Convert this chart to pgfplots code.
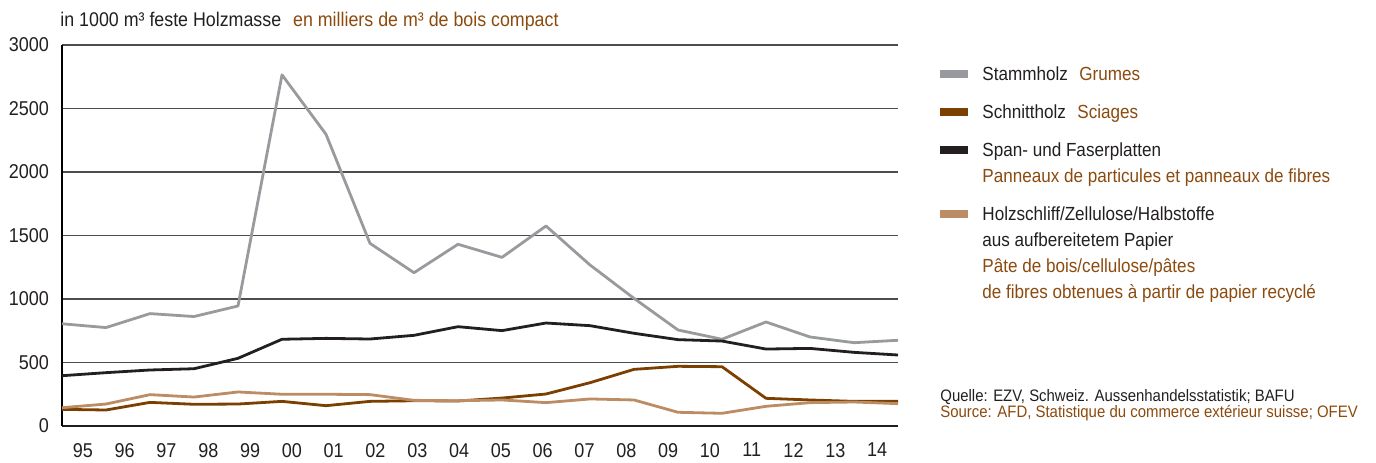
\documentclass[border=0pt]{standalone}
\usepackage{fontspec}
\setmainfont{Liberation Sans}[FakeStretch=0.9]
\usepackage{pgfplots}
\usepackage{pgfplotstable}
\pgfplotsset{compat=1.18}

\definecolor{stamm}{HTML}{999A9E}
\definecolor{schnitt}{HTML}{7B3F00}
\definecolor{span}{HTML}{231F20}
\definecolor{schliff}{HTML}{BC8D64}
\definecolor{fr}{HTML}{8B4A0E}
\definecolor{txt}{HTML}{231F20}
\definecolor{gridc}{HTML}{4D4D4D}

% index 0 = 1995 ... 19 = 2014, in 1000 m3
\pgfplotstableread{
x  stamm schnitt span schliff
0   805  131  396  144
1   775  126  420  173
2   885  186  441  247
3   862  171  451  228
4   945  173  533  268
5  2765  194  683  250
6  2297  160  690  250
7  1438  194  685  247
8  1207  199  714  202
9  1431  197  782  199
10 1328  220  751  205
11 1575  252  811  184
12 1268  341  790  213
13 1005  446  730  205
14  756  470  680  108
15  683  467  669  100
16  819  218  606  155
17  701  205  611  184
18  656  194  580  189
19  675  194  559  176
}\holz

\begin{document}
\begin{tikzpicture}[
    leg/.style={anchor=base west, inner sep=0pt, text=txt, font=\fontsize{9.5}{12}\selectfont},
    src/.style={anchor=base west, inner sep=0pt, font=\fontsize{8.3}{10}\selectfont}
]
\useasboundingbox (-31pt,-18pt) rectangle (657pt,213pt);
\begin{axis}[
    at={(0,0)}, anchor=south west,
    scale only axis,
    width=418pt, height=190.5pt,
    xmin=0, xmax=19, ymin=0, ymax=3000,
    axis lines*=left,
    x axis line style={draw=txt, line width=0.8pt},
    y axis line style={draw=black, line width=1.4pt},
    ytick={0,500,...,3000},
    ymajorgrids,
    grid style={draw=gridc, line width=0.7pt},
    xtick={0.475,1.425,2.375,3.325,4.275,5.225,6.175,7.125,8.075,9.025,9.975,10.925,11.875,12.825,13.775,14.725,15.675,16.625,17.575,18.525},
    xticklabels={95,96,97,98,99,00,01,02,03,04,05,06,07,08,09,10,11,12,13,14},
    major tick length=0pt,
    tick label style={font=\fontsize{10}{12}\selectfont, text=txt},
    yticklabel style={xshift=-3pt},
    xticklabel style={yshift=-5pt},
    /pgf/number format/assume math mode=true,
    /pgf/number format/1000 sep={},
    every axis plot/.append style={line width=1.4pt, line join=round, mark=none},
]
\addplot[color=stamm] table[x=x, y=stamm] {\holz};
\addplot[color=schnitt] table[x=x, y=schnitt] {\holz};
\addplot[color=span] table[x=x, y=span] {\holz};
\addplot[color=schliff] table[x=x, y=schliff] {\holz};
\end{axis}
% title
\node[leg, font=\fontsize{9.9}{12}\selectfont] at (-1pt,199.75pt)
    {in 1000 m³ feste Holzmasse\hspace{0.6em}\textcolor{fr}{en milliers de m³ de bois compact}};
% legend
\fill[stamm]   (439pt,174.2pt) rectangle (453pt,177.8pt);
\fill[schnitt] (439pt,155.2pt) rectangle (453pt,158.8pt);
\fill[span]    (439pt,136.2pt) rectangle (453pt,139.8pt);
\fill[schliff] (439pt,104.2pt) rectangle (453pt,107.8pt);
\node[leg] at (460pt,173pt) {Stammholz\hspace{0.6em}\textcolor{fr}{Grumes}};
\node[leg] at (460pt,154pt) {Schnittholz\hspace{0.6em}\textcolor{fr}{Sciages}};
\node[leg] at (460pt,135pt) {Span- und Faserplatten};
\node[leg, text=fr] at (460pt,122pt) {Panneaux de particules et panneaux de fibres};
\node[leg] at (460pt,103pt) {Holzschliff/Zellulose/Halbstoffe};
\node[leg] at (460pt,90pt) {aus aufbereitetem Papier};
\node[leg, text=fr] at (460pt,77pt) {Pâte de bois/cellulose/pâtes};
\node[leg, text=fr] at (460pt,64pt) {de fibres obtenues à partir de papier recyclé};
% source
\node[src, text=txt] at (439pt,12.5pt) {Quelle: EZV, Schweiz. Aussenhandelsstatistik; BAFU};
\node[src, text=fr] at (439pt,4.5pt) {Source: AFD, Statistique du commerce extérieur suisse; OFEV};
\end{tikzpicture}
\end{document}
